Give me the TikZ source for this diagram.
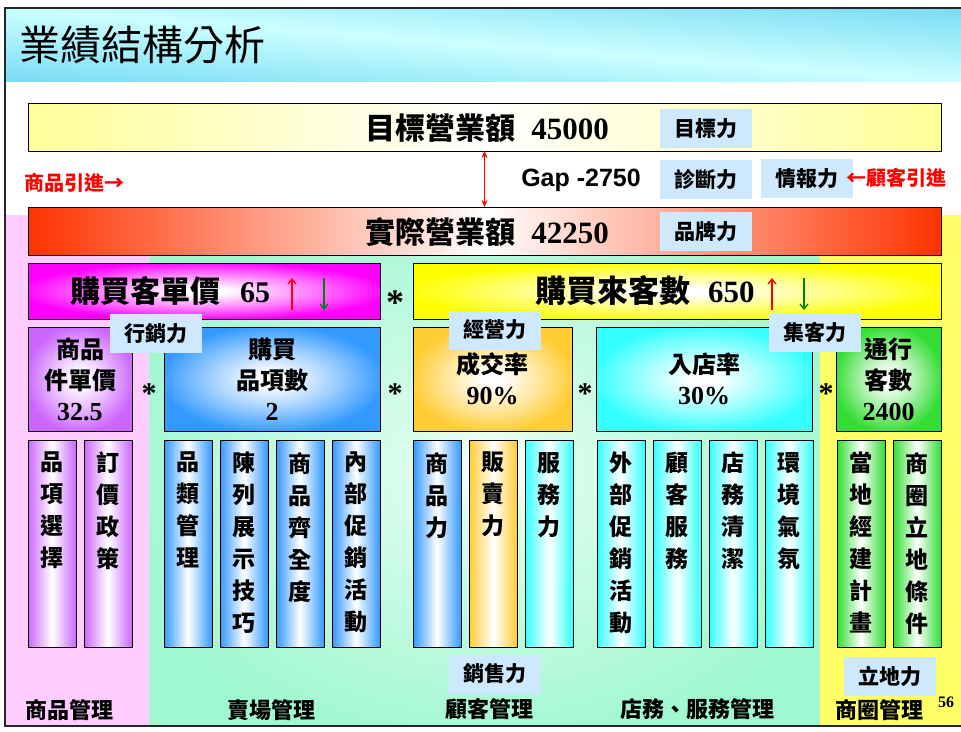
\documentclass[tikz,border=0pt]{standalone}
\usepackage{fontspec}
\usetikzlibrary{positioning}
\usetikzlibrary{arrows.meta}
\newfontfamily\cjk{Noto Sans CJK TC}
\newfontfamily\tnum{Liberation Serif}
\newfontfamily\arial{Liberation Sans}

\definecolor{tagblue}{RGB}{206,233,253}
\definecolor{pinkzone}{RGB}{255,204,255}
\definecolor{mintzone}{RGB}{160,248,208}
\definecolor{yellowzone}{RGB}{255,255,102}
\definecolor{goalyellow}{RGB}{255,255,153}
\definecolor{redbar}{RGB}{255,51,0}
\definecolor{magbar}{RGB}{255,0,255}
\definecolor{yelbar}{RGB}{255,255,0}
\definecolor{purplebox}{RGB}{204,102,255}
\definecolor{bluebox}{RGB}{51,153,255}
\definecolor{orangebox}{RGB}{255,204,51}
\definecolor{cyanbox}{RGB}{51,255,255}
\definecolor{greenbox}{RGB}{51,221,51}
\definecolor{downgreen}{RGB}{0,128,0}

\colorlet{glowcol}{white}
\pgfdeclareradialshading[glowcol]{glow}{\pgfpointorigin}{color(0bp)=(white); color(3bp)=(white); color(14bp)=(glowcol!45!white); color(26bp)=(glowcol); color(50bp)=(glowcol)}
\pgfdeclareradialshading{zoneglow}{\pgfpointorigin}{color(0bp)=(white); color(6bp)=(white!60!mintzone); color(28bp)=(mintzone); color(50bp)=(mintzone)}
% title band: blue at lower left and upper right
\pgfdeclarefunctionalshading{titleshade}{\pgfpointorigin}{\pgfpoint{100bp}{100bp}}{}{
  add 100 sub abs 100 div 1.3 mul dup 1 gt {pop 1} if
  dup -0.498 mul 0.8 add exch
  dup -0.216 mul 1 add exch
  -0.059 mul 1 add
}

\begin{document}
\begin{tikzpicture}[%
    x=1pt, y=-1pt,
    glow/.style={/utils/exec={\colorlet{glowcol}{#1}}, shading=glow},
    barnode/.style={draw=black, line width=0.8pt, inner sep=0pt, outer sep=0pt, anchor=north west},
    boxnode/.style={barnode, minimum height=104pt, align=center, font=\cjk\bfseries\fontsize{24}{31}\selectfont},
    colnode/.style={draw=black, line width=0.8pt, inner sep=0pt, outer sep=0pt, minimum width=48pt, minimum height=207pt, left color=#1, right color=#1, middle color=white},
    coltext/.style={anchor=north, align=center, inner sep=0pt, font=\cjk\bfseries\fontsize{23}{32}\selectfont},
    tagnode/.style={fill=tagblue, minimum width=92pt, minimum height=39pt, inner sep=0pt, font=\cjk\bfseries\fontsize{21}{21}\selectfont},
    zonetext/.style={inner sep=0pt, font=\cjk\bfseries\fontsize{22}{22}\selectfont},
    redtext/.style={inner sep=0pt, text=red, font=\cjk\bfseries\fontsize{20}{20}\selectfont},
    mulsign/.style={inner sep=0pt, anchor=base, font=\tnum\bfseries\fontsize{#1}{#1}\selectfont},
    updown/.style={line width=1.3pt, -{Straight Barb[length=5pt,width=8pt]}}
]
\useasboundingbox (0,0) rectangle (961,731);
\clip (0,0) rectangle (961,731);

% Frame and title
\fill[white] (5,8) rectangle (975,726);
\shade[shading=titleshade] (5,8) rectangle (961,81);
\node[anchor=west, inner sep=0pt, font=\cjk\fontsize{41}{41}\selectfont] (title) at (19,45) {業績結構分析};

% Zones
\fill[pinkzone] (5,215) rectangle (149,726);
\shade[shading=zoneglow] (149,215) rectangle (820,726);
\fill[yellowzone] (820,215) rectangle (975,726);

% Sales bars
\node[barnode, minimum width=913pt, minimum height=48pt, left color=goalyellow, right color=goalyellow, middle color=white] (goal) at (28,103) {};
\node[inner sep=0pt, font=\bfseries] (goaltext) at (487,128) {{\cjk\fontsize{30}{30}\selectfont 目標營業額}\hspace{16pt}{\tnum\fontsize{31}{31}\selectfont 45000}};
\node[barnode, minimum width=913pt, minimum height=48pt, left color=redbar, right color=redbar, middle color=white] (actual) at (28,207) {};
\node[inner sep=0pt, font=\bfseries] (actualtext) at (487,232) {{\cjk\fontsize{30}{30}\selectfont 實際營業額}\hspace{16pt}{\tnum\fontsize{31}{31}\selectfont 42250}};
\draw[red, line width=1pt, {Stealth[length=7pt,width=6pt]}-{Stealth[length=7pt,width=6pt]}] (goal.south) -- (actual.north);
\node[inner sep=0pt, font=\arial\bfseries\fontsize{25}{25}\selectfont] (gap) at (581,180) {Gap -2750};

% Customer price / customer count
\node[barnode, minimum width=352pt, minimum height=56pt, glow=magbar] (buyprice) at (28,263) {};
\node[inner sep=0pt, anchor=west, font=\bfseries] (buypricetext) [right=42pt of buyprice.west] {{\cjk\fontsize{30}{30}\selectfont 購買客單價}\hspace{20pt}{\tnum\fontsize{30}{30}\selectfont 65}};
\node[barnode, minimum width=528pt, minimum height=56pt, glow=yelbar] (visits) at (413,263) {};
\node[inner sep=0pt, anchor=west, font=\bfseries] (visitstext) [right=122pt of visits.west] {{\cjk\fontsize{31}{31}\selectfont 購買來客數}\hspace{18pt}{\tnum\fontsize{31}{31}\selectfont 650}};
\coordinate (pup0) at (292,310);
\coordinate (pup1) at (292,278);
\coordinate (pdn0) at (324,278);
\coordinate (pdn1) at (324,310);
\coordinate (vup0) at (772,310);
\coordinate (vup1) at (772,278);
\coordinate (vdn0) at (804,278);
\coordinate (vdn1) at (804,310);
\draw[updown, red] (pup0) -- (pup1);
\draw[updown, downgreen] (pdn0) -- (pdn1);
\draw[updown, red] (vup0) -- (vup1);
\draw[updown, downgreen] (vdn0) -- (vdn1);
\node[mulsign=36] (m1) at (395,314) {*};

% Factor boxes
\node[boxnode, minimum width=104pt, glow=purplebox] (unitprice) at (28,327) {商品\\件單價\\{\tnum\fontsize{26}{31}\selectfont 32.5}};
\node[boxnode, minimum width=216pt, glow=bluebox] (items) at (164,327) {購買\\品項數\\{\tnum\fontsize{26}{31}\selectfont 2}};
\node[boxnode, minimum width=159pt, glow=orangebox] (closing) at (413,327) {成交率\\{\tnum\fontsize{26}{31}\selectfont 90\%}};
\node[boxnode, minimum width=216pt, glow=cyanbox] (entry) at (596,327) {入店率\\{\tnum\fontsize{26}{31}\selectfont 30\%}};
\node[boxnode, minimum width=105pt, glow=greenbox] (traffic) at (836,327) {通行\\客數\\{\tnum\fontsize{26}{31}\selectfont 2400}};
\node[mulsign=30] (m2) at (149,403) {*};
\node[mulsign=30] (m3) at (395,403) {*};
\node[mulsign=30] (m4) at (585,403) {*};
\node[mulsign=30] (m5) at (826,403) {*};

% Columns
\node[colnode=purplebox, anchor=north west] (c1) at (28,440) {};
\node[colnode=purplebox] (c2) [right=8pt of c1] {};
\node[colnode=bluebox] (c3) [right=32pt of c2] {};
\node[colnode=bluebox] (c4) [right=8pt of c3] {};
\node[colnode=bluebox] (c5) [right=8pt of c4] {};
\node[colnode=bluebox] (c6) [right=8pt of c5] {};
\node[colnode=bluebox] (c7) [right=33pt of c6] {};
\node[colnode=orangebox] (c8) [right=8pt of c7] {};
\node[colnode=cyanbox] (c9) [right=8pt of c8] {};
\node[colnode=cyanbox] (c10) [right=24pt of c9] {};
\node[colnode=cyanbox] (c11) [right=8pt of c10] {};
\node[colnode=cyanbox] (c12) [right=8pt of c11] {};
\node[colnode=cyanbox] (c13) [right=8pt of c12] {};
\node[colnode=greenbox] (c14) [right=24pt of c13] {};
\node[colnode=greenbox] (c15) [right=8pt of c14] {};

\node[coltext] (t1) [below=12pt of c1.north] {品\\項\\選\\擇};
\node[coltext] (t2) [below=12pt of c2.north] {訂\\價\\政\\策};
\node[coltext] (t3) [below=12pt of c3.north] {品\\類\\管\\理};
\node[coltext] (t4) [below=12pt of c4.north] {陳\\列\\展\\示\\技\\巧};
\node[coltext] (t5) [below=12pt of c5.north] {商\\品\\齊\\全\\度};
\node[coltext] (t6) [below=12pt of c6.north] {內\\部\\促\\銷\\活\\動};
\node[coltext] (t7) [below=12pt of c7.north] {商\\品\\力};
\node[coltext] (t8) [below=12pt of c8.north] {販\\賣\\力};
\node[coltext] (t9) [below=12pt of c9.north] {服\\務\\力};
\node[coltext] (t10) [below=12pt of c10.north] {外\\部\\促\\銷\\活\\動};
\node[coltext] (t11) [below=12pt of c11.north] {顧\\客\\服\\務};
\node[coltext] (t12) [below=12pt of c12.north] {店\\務\\清\\潔};
\node[coltext] (t13) [below=12pt of c13.north] {環\\境\\氣\\氛};
\node[coltext] (t14) [below=12pt of c14.north] {當\\地\\經\\建\\計\\畫};
\node[coltext] (t15) [below=12pt of c15.north] {商\\圈\\立\\地\\條\\件};

% Tags
\node[tagnode] (goalpower) at (706,128.5) {目標力};
\node[tagnode] (diagpower) at (706,179.5) {診斷力};
\node[tagnode] (infopower) at (807,178.5) {情報力};
\node[tagnode] (brandpower) at (706,231.5) {品牌力};
\node[tagnode] (mktpower) at (156,333.5) {行銷力};
\node[tagnode] (mgmtpower) at (494.5,330) {經營力};
\node[tagnode] (drawpower) at (815,332) {集客力};
\node[tagnode] (sellpower) at (494.5,674) {銷售力};
\node[tagnode] (sitepower) at (890,676.5) {立地力};

% Red notes
\node[redtext] (goodsin) at (74,183) {商品引進→};
\node[redtext] (custin) at (896,178) {←顧客引進};

% Zone titles
\node[zonetext] (goodsmgmt) at (69,710) {商品管理};
\node[zonetext] (floormgmt) at (271,710) {賣場管理};
\node[zonetext] (custmgmt) at (489,709) {顧客管理};
\node[zonetext] (storemgmt) at (697,709) {店務、服務管理};
\node[zonetext] (areamgmt) at (879,710) {商圈管理};
\node[inner sep=0pt, font=\tnum\bfseries\fontsize{16}{16}\selectfont] (pageno) at (946,702) {56};

\draw[black!85, line width=2.2pt] (5,8) rectangle (975,726);
\end{tikzpicture}
\end{document}
